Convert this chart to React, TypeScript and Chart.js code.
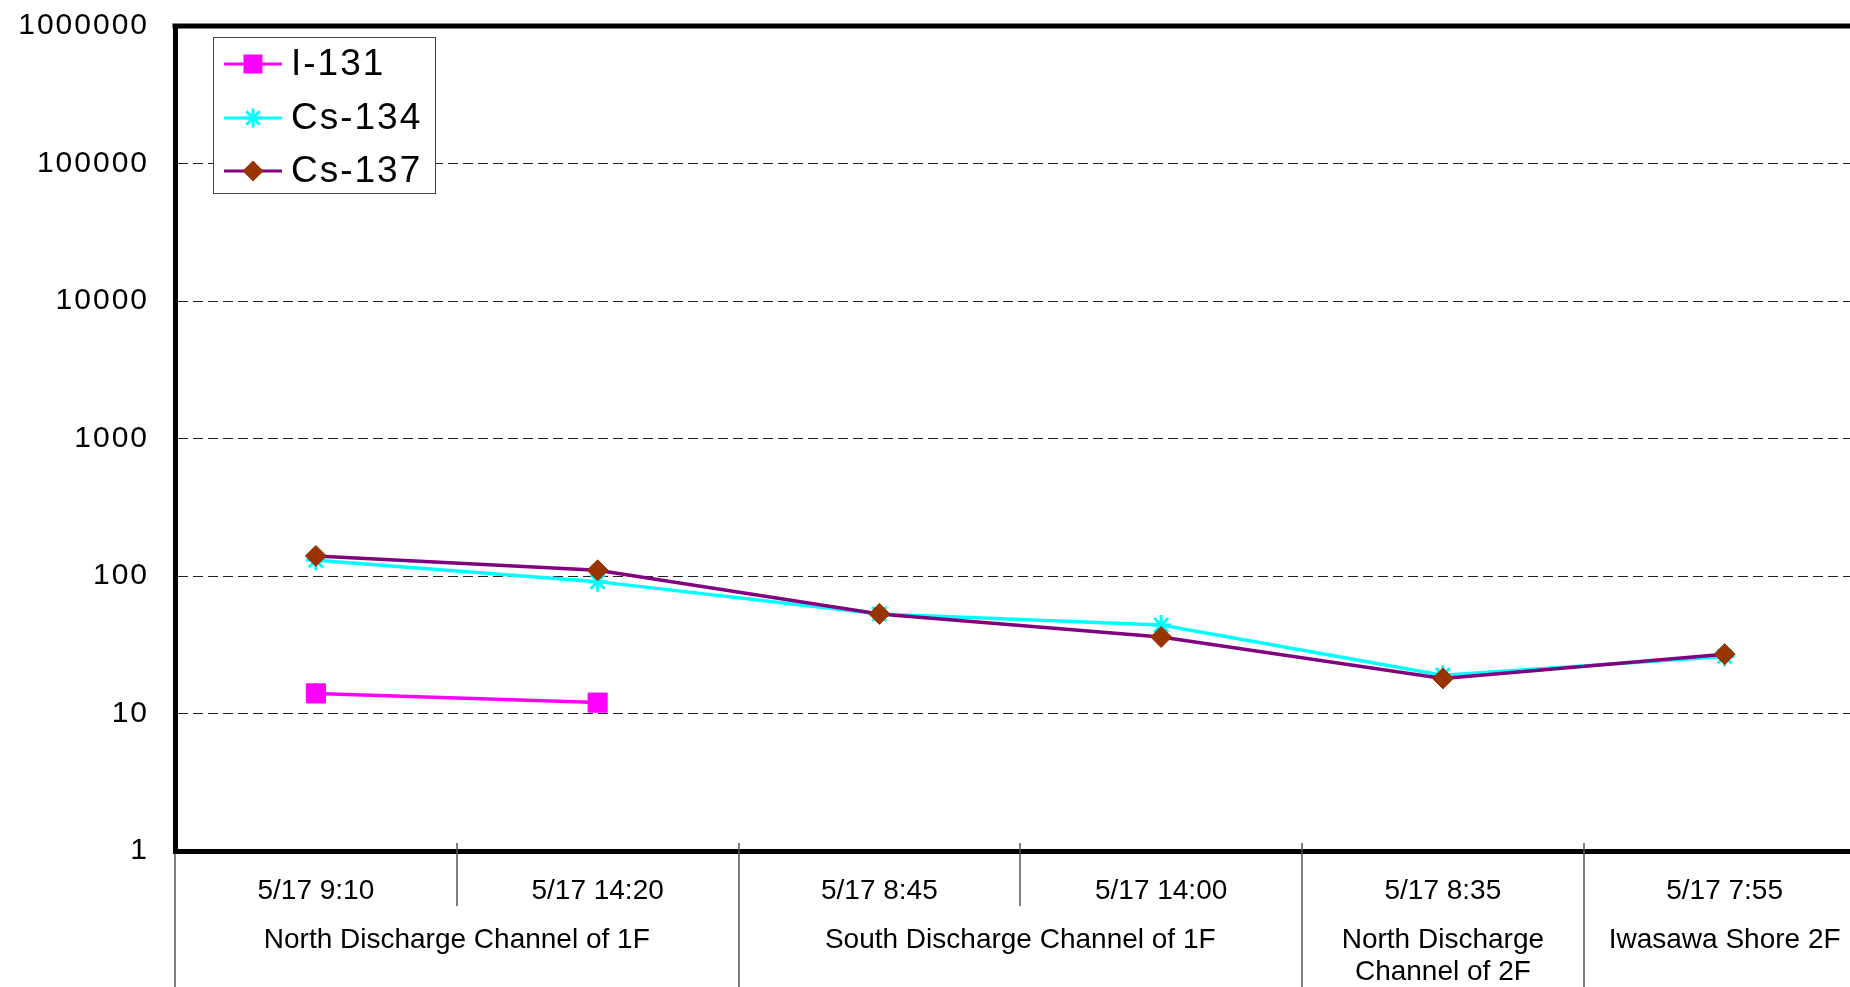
import React, { useEffect, useRef } from 'react';
import { Chart, registerables } from 'chart.js';

Chart.register(...registerables);

const dates = ['5/17 9:10', '5/17 14:20', '5/17 8:45', '5/17 14:00', '5/17 8:35', '5/17 7:55'];
const groupLabels: (string | string[])[] = [
  'North Discharge Channel of 1F',
  'South Discharge Channel of 1F',
  ['North Discharge', 'Channel of 2F'],
  'Iwasawa Shore 2F',
];
const groupSpans = [2, 2, 1, 1];
const seriesNames = ['I-131', 'Cs-134', 'Cs-137'];
const i131 = [14, 12, null, null, null, null];
const cs134 = [130, 91, 53, 44, 19, 26];
const cs137 = [140, 110, 53, 36, 18, 27];
const yTicks = [1, 10, 100, 1000, 10000, 100000, 1000000];

const FONT = '"Liberation Sans", Arial, sans-serif';
const CANVAS_W = 1880;
const CANVAS_H = 987;

function drawMarker(ctx: CanvasRenderingContext2D, kind: string, x: number, y: number, color: string) {
  ctx.save();
  if (kind === 'rect') {
    ctx.fillStyle = color;
    ctx.fillRect(x - 9.5, y - 9.5, 19, 19);
  } else if (kind === 'star') {
    ctx.strokeStyle = color;
    ctx.lineWidth = 3;
    const r = 9.5;
    const d = r * Math.SQRT1_2;
    ctx.beginPath();
    ctx.moveTo(x - d, y - d); ctx.lineTo(x + d, y + d);
    ctx.moveTo(x + d, y - d); ctx.lineTo(x - d, y + d);
    ctx.moveTo(x, y - r); ctx.lineTo(x, y + r);
    ctx.moveTo(x - r, y); ctx.lineTo(x + r, y);
    ctx.stroke();
  } else {
    ctx.fillStyle = color;
    ctx.beginPath();
    ctx.moveTo(x - 10.5, y); ctx.lineTo(x, y - 10.5); ctx.lineTo(x + 10.5, y); ctx.lineTo(x, y + 10.5);
    ctx.closePath();
    ctx.fill();
  }
  ctx.restore();
}

const decorPlugin = {
  id: 'decor',
  beforeDraw(chart: any) {
    chart.ctx.letterSpacing = '0px';
  },
  afterDatasetsDraw(chart: any) {
    chart.ctx.letterSpacing = '2px';
  },
  afterDraw(chart: any) {
    const ctx: CanvasRenderingContext2D = chart.ctx;
    (ctx as any).letterSpacing = '0px';
    const { left, right, top, bottom } = chart.chartArea;
    const xs = chart.scales.x;
    const H = chart.height;
    ctx.save();

    // top frame line
    ctx.strokeStyle = '#000';
    ctx.lineWidth = 5;
    ctx.beginPath();
    ctx.moveTo(left - 2.5, top);
    ctx.lineTo(right, top);
    ctx.stroke();

    // category separators
    const step = xs.getPixelForValue(1) - xs.getPixelForValue(0);
    const edge = (i: number) => xs.getPixelForValue(i) - step / 2;
    const groupEdges = new Set<number>([0]);
    let acc = 0;
    groupSpans.forEach((s) => { acc += s; groupEdges.add(acc); });
    ctx.strokeStyle = '#555';
    ctx.lineWidth = 1.5;
    for (let i = 0; i <= dates.length; i++) {
      const ex = Math.round(edge(i));
      const isGroup = groupEdges.has(i);
      ctx.beginPath();
      ctx.moveTo(ex, i === 0 ? bottom + 2.5 : bottom - 8);
      ctx.lineTo(ex, isGroup ? H : bottom + 55);
      ctx.stroke();
    }

    // group labels
    ctx.fillStyle = '#000';
    ctx.font = `28px ${FONT}`;
    ctx.textAlign = 'center';
    ctx.textBaseline = 'middle';
    let start = 0;
    groupLabels.forEach((lab, gi) => {
      const span = groupSpans[gi];
      const cx = (edge(start) + edge(start + span)) / 2;
      const lines = Array.isArray(lab) ? lab : [lab];
      lines.forEach((ln, li) => ctx.fillText(ln, cx, bottom + 89 + li * 32));
      start += span;
    });

    // legend
    const lx = left + 38;
    const ly = top + 11;
    const lw = 222;
    const lh = 156;
    ctx.fillStyle = '#fff';
    ctx.fillRect(lx, ly, lw, lh);
    ctx.strokeStyle = '#444';
    ctx.lineWidth = 1;
    ctx.strokeRect(lx + 0.5, ly + 0.5, lw, lh);
    const rowsY = [ly + 27, ly + 81, ly + 134];
    const kinds = ['rect', 'star', 'diamond'];
    chart.data.datasets.forEach((ds: any, i: number) => {
      const y = rowsY[i];
      ctx.strokeStyle = ds.borderColor;
      ctx.lineWidth = 3;
      ctx.beginPath();
      ctx.moveTo(lx + 11, y);
      ctx.lineTo(lx + 69, y);
      ctx.stroke();
      drawMarker(ctx, kinds[i], lx + 40, y, kinds[i] === 'star' ? ds.pointBorderColor : ds.pointBackgroundColor);
      ctx.fillStyle = '#000';
      ctx.font = `37px ${FONT}`;
      ctx.textAlign = 'left';
      ctx.textBaseline = 'middle';
      (ctx as any).letterSpacing = '2px';
      ctx.fillText(ds.label, lx + 78, y + 1);
      (ctx as any).letterSpacing = '0px';
    });
    ctx.restore();
  },
};

export default function App() {
  const ref = useRef<HTMLCanvasElement | null>(null);

  useEffect(() => {
    if (!ref.current) return;
    const chart = new Chart(ref.current, {
      type: 'line',
      data: {
        labels: dates,
        datasets: [
          {
            label: seriesNames[0],
            data: i131,
            borderColor: '#FF00FF',
            backgroundColor: '#FF00FF',
            borderWidth: 3.5,
            pointStyle: 'rect',
            pointRadius: 13.5,
            pointBackgroundColor: '#FF00FF',
            pointBorderColor: '#FF00FF',
            pointBorderWidth: 1,
            spanGaps: false,
            order: 2,
          },
          {
            label: seriesNames[1],
            data: cs134,
            borderColor: '#00FFFF',
            backgroundColor: '#00FFFF',
            borderWidth: 3.5,
            pointStyle: 'star',
            pointRadius: 10,
            pointBackgroundColor: '#00FFFF',
            pointBorderColor: '#00FFFF',
            pointBorderWidth: 3,
            order: 1,
          },
          {
            label: seriesNames[2],
            data: cs137,
            borderColor: '#800080',
            backgroundColor: '#993300',
            borderWidth: 3.5,
            pointStyle: 'rectRot',
            pointRadius: 10.5,
            pointBackgroundColor: '#993300',
            pointBorderColor: '#993300',
            pointBorderWidth: 1,
            order: 0,
          },
        ],
      },
      options: {
        animation: false,
        responsive: false,
        devicePixelRatio: 1,
        layout: { padding: { top: 26, right: 13, left: 0, bottom: 0 } },
        plugins: {
          legend: { display: false },
          tooltip: { enabled: false },
        },
        elements: { line: { tension: 0 } },
        scales: {
          x: {
            type: 'category',
            offset: true,
            grid: { display: false, drawTicks: false },
            border: { display: true, color: '#000', width: 5 },
            ticks: {
              autoSkip: false,
              maxRotation: 0,
              minRotation: 0,
              color: '#000',
              font: { family: FONT, size: 28 },
              padding: 23,
            },
            afterFit: (scale: any) => {
              scale.height = 136;
              scale.paddingLeft = 0;
              scale.paddingRight = 0;
            },
          },
          y: {
            type: 'logarithmic',
            min: 1,
            max: 1000000,
            grid: { color: '#222', lineWidth: 1, drawTicks: false },
            border: { display: true, color: '#000', width: 5, dash: [10, 5] },
            ticks: {
              color: '#000',
              font: { family: FONT, size: 30 },
              padding: 26,
              z: 1,
              callback: (v: any) => String(v),
            },
            afterBuildTicks: (scale: any) => {
              scale.ticks = yTicks.map((v) => ({ value: v }));
            },
            afterFit: (scale: any) => {
              scale.width = 175;
              scale.paddingTop = 0;
              scale.paddingBottom = 0;
            },
          },
        },
      },
      plugins: [decorPlugin],
    } as any);
    return () => chart.destroy();
  }, []);

  return (
    <div
      style={{
        position: 'absolute',
        left: 0,
        top: 0,
        width: 1850,
        height: 987,
        overflow: 'hidden',
        background: '#fff',
      }}
    >
      <canvas ref={ref} width={CANVAS_W} height={CANVAS_H} style={{ display: 'block' }} />
    </div>
  );
}
